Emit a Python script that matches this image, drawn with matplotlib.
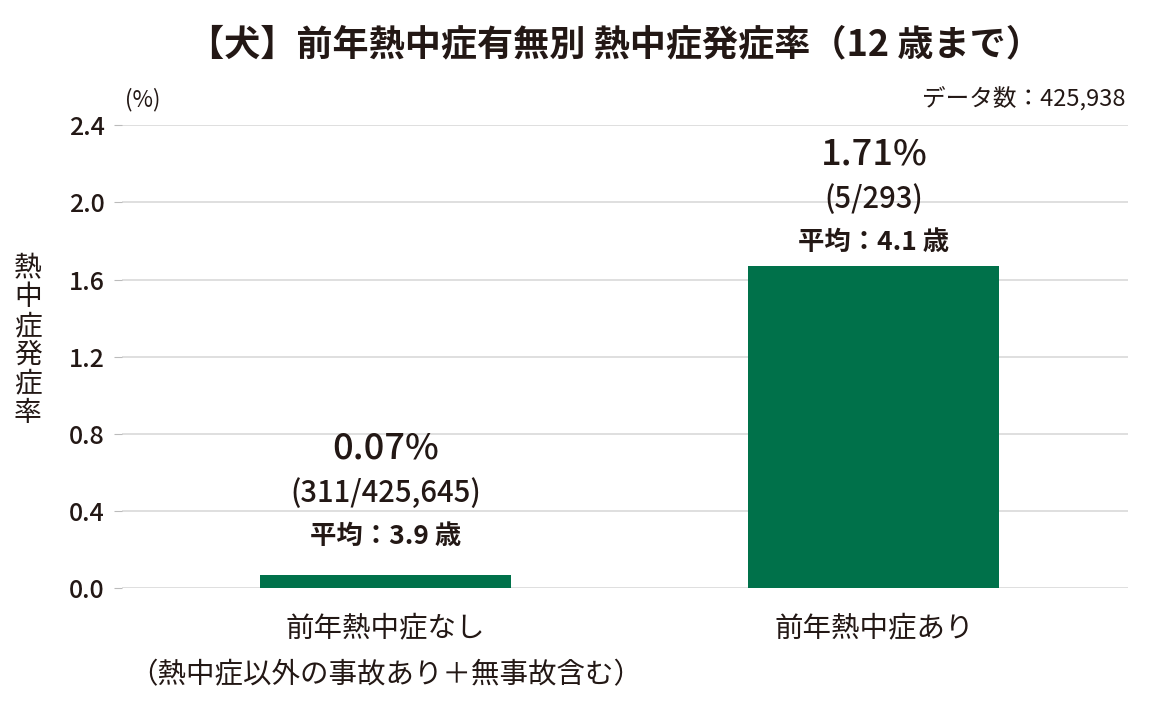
import matplotlib.pyplot as plt

plt.rcParams['font.family'] = ['Noto Sans CJK JP', 'DejaVu Sans']

categories = ['前年熱中症なし\n（熱中症以外の事故あり＋無事故含む）', '前年熱中症あり']
rates = [0.07, 1.67]
rate_labels = ['0.07%', '1.71%']
count_labels = ['(311/425,645)', '(5/293)']
age_labels = ['平均：3.9 歳', '平均：4.1 歳']
yticks = [0.0, 0.4, 0.8, 1.2, 1.6, 2.0, 2.4]

text_color = '#231815'
bar_color = '#00714A'

fig = plt.figure(figsize=(11.58, 7.2), dpi=100)
ax = fig.add_axes([0.105, 0.183, 0.869, 0.643])

x = range(len(categories))
ax.bar(x, rates, width=0.514, color=bar_color, zorder=3)

ax.set_ylim(0, 2.4)
ax.set_xlim(-0.54, 1.52)
ax.set_yticks(yticks)
ax.set_yticklabels([f'{v:.1f}' for v in yticks], fontsize=18, color=text_color,
                   fontweight='medium')
ax.set_xticks(list(x))
ax.set_xticklabels(categories, fontsize=20.5, color=text_color, linespacing=1.75)
ax.tick_params(axis='x', length=0, pad=18)
ax.tick_params(axis='y', length=6, color='#bbbbbb', pad=6)
ax.grid(axis='y', color='#d9d9d9', linewidth=1.2, zorder=0)
for s in ax.spines.values():
    s.set_visible(False)

# バー上のラベル（位置はバーごとに調整）
offs = [(0.655, 0.42, 0.20), (0.577, 0.343, 0.12)]
for i, r in enumerate(rates):
    o1, o2, o3 = offs[i]
    ax.text(i, r + o1, rate_labels[i], ha='center', va='center',
            fontsize=26, fontweight='medium', color=text_color)
    ax.text(i, r + o2, count_labels[i], ha='center', va='center',
            fontsize=21, fontweight='medium', color=text_color)
    ax.text(i, r + o3, age_labels[i], ha='center', va='center',
            fontsize=19, fontweight='bold', color=text_color)

fig.text(0.531, 0.938, '【犬】前年熱中症有無別 熱中症発症率（12 歳まで）', ha='center', va='center',
         fontsize=26, fontweight='bold', color=text_color)
fig.text(0.108, 0.862, '(%)', ha='left', va='center', fontsize=16, color=text_color)
fig.text(0.972, 0.862, 'データ数：425,938', ha='right', va='center', fontsize=17, color=text_color)
fig.text(0.024, 0.527, '\n'.join('熱中症発症率'), ha='center', va='center', fontsize=20,
         color=text_color, linespacing=0.95)

fig.savefig('out.png', dpi=100, facecolor='white')
